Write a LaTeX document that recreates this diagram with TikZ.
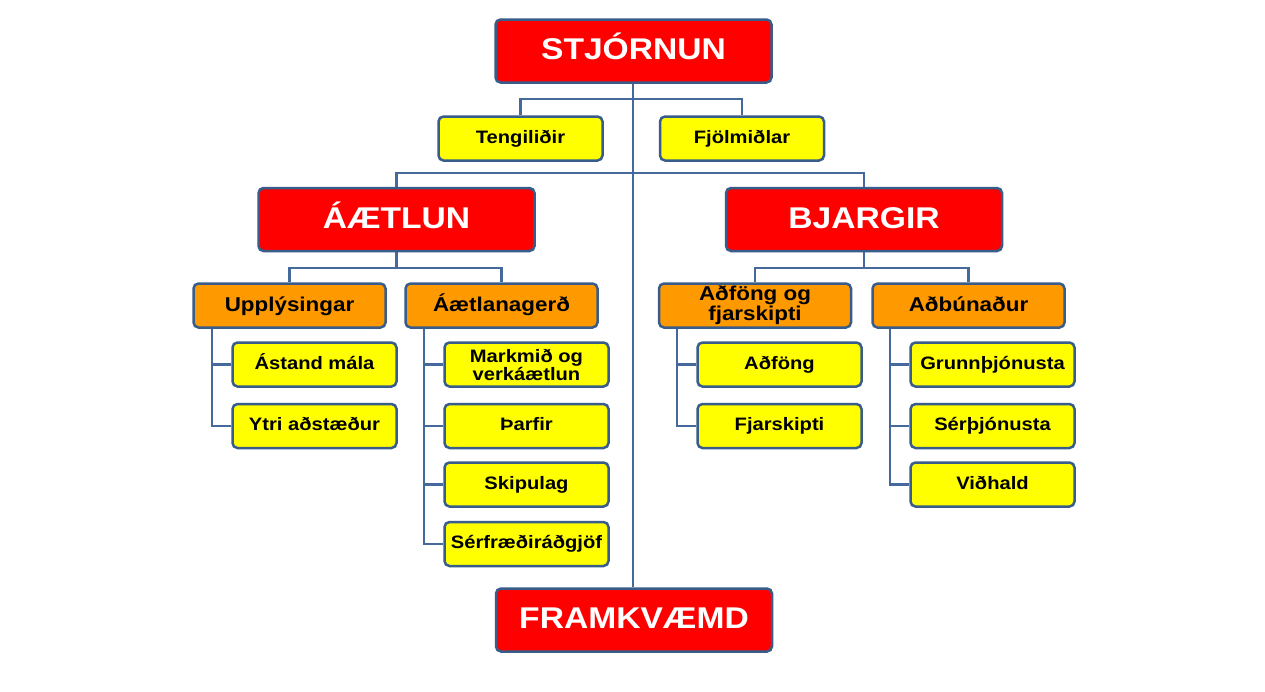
\documentclass[tikz,border=0pt]{standalone}
\usepackage{fontspec}
\setmainfont{Liberation Sans}[FakeStretch=1.12]
\usetikzlibrary{backgrounds}
\definecolor{bordc}{RGB}{56,93,138}
\definecolor{linec}{RGB}{70,105,155}
\definecolor{redc}{RGB}{255,0,0}
\definecolor{orc}{RGB}{255,153,0}
\definecolor{yelc}{RGB}{255,255,0}
\begin{document}
\begin{tikzpicture}[x=1pt,y=-1pt,
  box/.style={draw=bordc,line width=2.5pt,rounded corners=5pt,align=center,inner sep=1pt,font=\bfseries},
  redbox/.style={box,text height=21.6pt,text depth=4.5pt,fill=redc,text=white,minimum width=276pt,minimum height=63pt,font=\bfseries\fontsize{30}{32}\selectfont},
  orbase/.style={box,fill=orc,text=black,minimum width=192pt,minimum height=44pt,font=\bfseries\fontsize{20}{18.5}\selectfont},
  yelbase/.style={box,fill=yelc,text=black,minimum width=164pt,minimum height=44pt,font=\bfseries\fontsize{18}{17}\selectfont},
  orbox/.style={orbase,text height=14.4pt,text depth=3.4pt},
  yelbox/.style={yelbase,text height=13pt,text depth=3.6pt},
  conn/.style={draw=linec,line width=2.6pt}]
\useasboundingbox (0,0) rectangle (1265,691);
% coordinates for buses
\coordinate (b1) at (633,99);
\coordinate (b2) at (633,173);
\coordinate (b3) at (396.5,268);
\coordinate (b4) at (864,268);
\coordinate (s1) at (212,329);
\coordinate (s2) at (424,329);
\coordinate (s3) at (677,329);
\coordinate (s4) at (890,329);
\node[redbox] (stj) at (633.5,51) {STJÓRNUN};
\node[redbox] (fra) at (634,620) {FRAMKVÆMD};
\node[yelbox] (ten) at (520.5,138.5) {Tengiliðir};
\node[yelbox] (fjo) at (742,138.5) {Fjölmiðlar};
\node[redbox] (aae) at (396.5,219.5) {ÁÆTLUN};
\node[redbox] (bja) at (864,219.5) {BJARGIR};
\node[orbox] (upp) at (289.5,305.5) {Upplýsingar};
\node[orbox] (aag) at (501.5,305.5) {Áætlanagerð};
\node[orbase] (adf) at (755,305.5) {Aðföng og\\fjarskipti};
\node[orbox] (adb) at (968.5,305.5) {Aðbúnaður};
\node[yelbox] (ast) at (314.5,364.5) {Ástand mála};
\node[yelbox] (ytr) at (314.5,426) {Ytri aðstæður};
\node[yelbase] (mar) at (526.5,364.5) {Markmið og\\verkáætlun};
\node[yelbox] (tha) at (526.5,426) {Þarfir};
\node[yelbox] (ski) at (526.5,484.5) {Skipulag};
\node[yelbox] (ser) at (526.5,544) {Sérfræðiráðgjöf};
\node[yelbox] (adfo) at (779.5,364.5) {Aðföng};
\node[yelbox] (fja) at (779.5,426) {Fjarskipti};
\node[yelbox] (gru) at (992.5,364.5) {Grunnþjónusta};
\node[yelbox] (sth) at (992.5,426) {Sérþjónusta};
\node[yelbox] (vid) at (992.5,484.5) {Viðhald};
\begin{scope}[on background layer]
\fill[white] (0,0) rectangle (1265,691);
\draw[conn] (stj.south -| b1) -- (fra.north -| b1);
\draw[conn] (ten.north) |- (b1) -| (fjo.north);
\draw[conn] (aae.north) |- (b2) -| (bja.north);
\draw[conn] (aae.south) -- (b3);
\draw[conn] (upp.north) |- (b3) -| (aag.north);
\draw[conn] (bja.south) -- (b4);
\draw[conn] (adf.north) |- (b4) -| (adb.north);
\draw[conn] (s1) |- (ytr.west);
\draw[conn] (s1 |- ast.west) -- (ast.west);
\draw[conn] (s2) |- (ser.west);
\draw[conn] (s2 |- mar.west) -- (mar.west);
\draw[conn] (s2 |- tha.west) -- (tha.west);
\draw[conn] (s2 |- ski.west) -- (ski.west);
\draw[conn] (s3) |- (fja.west);
\draw[conn] (s3 |- adfo.west) -- (adfo.west);
\draw[conn] (s4) |- (vid.west);
\draw[conn] (s4 |- gru.west) -- (gru.west);
\draw[conn] (s4 |- sth.west) -- (sth.west);
\end{scope}
\end{tikzpicture}
\end{document}
